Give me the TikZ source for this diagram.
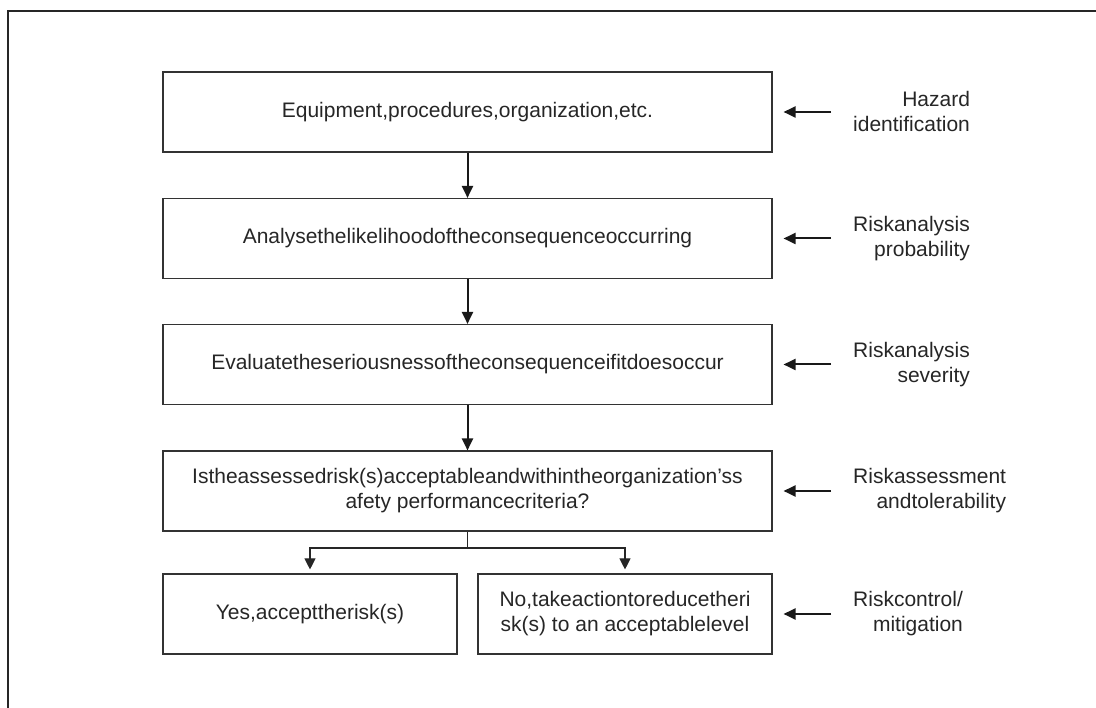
\documentclass[tikz,border=0pt]{standalone}
\usepackage{fontspec}
\setmainfont{Liberation Sans}
\usetikzlibrary{arrows.meta}

\begin{document}
\begin{tikzpicture}[x=1pt,y=1pt,
  stepbox/.style={draw=black!80, line width=1.1pt, minimum height=80pt,
    align=center, text=black!85, font=\fontsize{21}{25}\selectfont},
  widebox/.style={stepbox, minimum width=609pt},
  halfbox/.style={stepbox, minimum width=294pt},
  sidenote/.style={anchor=west, inner sep=0pt, align=right, text=black!85,
    font=\fontsize{21}{25}\selectfont},
  flow/.style={line width=2pt, black!90, -{Triangle[length=12pt,width=11pt]}},
  branch/.style={line width=1.1pt, black!85, -{Triangle[length=11pt,width=11pt]}},
  back/.style={line width=2pt, black!90, -{Triangle[length=12pt,width=11pt]},
    shorten <=22pt, shorten >=11pt}]

  % page and frame (only top and left edge show)
  \useasboundingbox (0,0) rectangle (1096,708);
  \draw[line width=1.2pt, black!85] (8,0) -- (8,697) -- (1096,697);

  % main column of steps
  \node[widebox] (ident)  at (467.5,596)   {Equipment,procedures,organization,etc.};
  \node[widebox] (prob)   at (467.5,469.5) {Analysethelikelihoodoftheconsequenceoccurring};
  \node[widebox] (sev)    at (467.5,343.5) {Evaluatetheseriousnessoftheconsequenceifitdoesoccur};
  \node[widebox] (accept) at (467.5,217)
    {Istheassessedrisk(s)acceptableandwithintheorganization’ss\\afety performancecriteria?};

  % the two outcomes
  \node[halfbox] (yes) at (310,94) {Yes,accepttherisk(s)};
  \node[halfbox] (no)  at (625,94) {No,takeactiontoreducetheri\\sk(s) to an acceptablelevel};

  % stage labels on the right
  \node[sidenote] (hazard)  at (853,596)   {Hazard\\identification};
  \node[sidenote] (likeli)  at (853,469.5) {Riskanalysis\\probability};
  \node[sidenote] (serious) at (853,343.5) {Riskanalysis\\severity};
  \node[sidenote] (tolerab) at (853,217)   {Riskassessment\\andtolerability};
  \node[sidenote] (control) at (853,94)    {Riskcontrol/\\mitigation};

  % arrows down the column
  \foreach \a/\b in {ident/prob, prob/sev, sev/accept}
    \draw[flow] (\a.south) -- (\b.north);

  % split to yes / no
  \coordinate (fork) at (467.5,160);
  \draw[line width=1.1pt, black!85] (accept.south) -- (fork);
  \draw[branch] (fork) -| ([yshift=4pt]yes.north);
  \draw[branch] (fork) -| ([yshift=4pt]no.north);

  % arrows from the labels
  \foreach \l/\b in {hazard/ident, likeli/prob, serious/sev, tolerab/accept, control/no}
    \draw[back] (\l.west) -- (\b.east);

\end{tikzpicture}
\end{document}
